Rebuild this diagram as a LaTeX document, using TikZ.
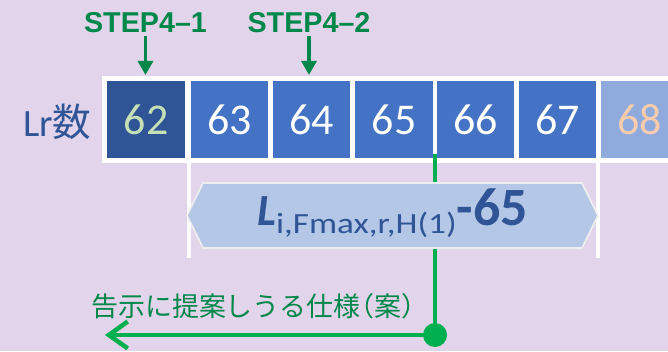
\documentclass[tikz,border=0pt]{standalone}
\usepackage{fontspec}
\usepackage{graphicx}
\setmainfont{Carlito}
\newfontfamily\jpfont{Noto Sans CJK JP}
\newfontfamily\jphalf{Noto Sans CJK JP}[RawFeature=+halt]
\newfontfamily\stepfont{Liberation Sans}
\usetikzlibrary{arrows.meta}
\definecolor{bgpurple}{HTML}{E2D5EB}
\definecolor{darkbox}{HTML}{2F5597}
\definecolor{midbox}{HTML}{4472C4}
\definecolor{lightbox}{HTML}{8FAADC}
\definecolor{bandfill}{HTML}{B4C7E7}
\definecolor{bandedge}{HTML}{EEEEEE}
\definecolor{linegreen}{HTML}{00B050}
\definecolor{textgreen}{HTML}{00884A}
\definecolor{palegreen}{HTML}{C5E0B4}
\definecolor{peach}{HTML}{F8CBAD}

\begin{document}
\begin{tikzpicture}[x=0.03cm,y=-0.03cm,>=Latex,lrbox/.style={minimum width=2.32cm,minimum height=2.31cm,inner sep=0,fill=midbox,text=white,font=\fontsize{37.5}{40}\selectfont},steplabel/.style={text=textgreen,inner sep=0,font=\stepfont\bfseries\fontsize{24.5}{28}\selectfont},steparrow/.style={textgreen,line width=2.6pt,-{Triangle[length=12pt,width=13pt]},shorten <=2pt,shorten >=5pt},gline/.style={linegreen,line width=3.9pt},wline/.style={white,line width=3.4pt},joint/.style={circle,fill=linegreen,minimum size=0.72cm,inner sep=0}]
\clip (0,0) rectangle (668,351);
\fill[bgpurple] (0,0) rectangle (668,351);
\fill[white] (102,76) rectangle (680,163);
% Lr boxes
\node[lrbox,fill=darkbox,text=palegreen] (b62) at (146,119.5) {62};
\node[lrbox] (b63) at (229.5,119.5) {63};
\node[lrbox] (b64) at (311.5,119.5) {64};
\node[lrbox] (b65) at (394,119.5) {65};
\node[lrbox] (b66) at (475.5,119.5) {66};
\node[lrbox] (b67) at (557.5,119.5) {67};
\node[lrbox,fill=lightbox,text=peach] (b68) at (639.5,119.5) {68};
\node[anchor=base west,text=darkbox,inner sep=0,font=\fontsize{33}{36}\selectfont] (lrname) at (23,136) {Lr{\jpfont 数}};
% range marks
\coordinate (wl1) at (189,163);
\coordinate (wl2) at (189,258);
\coordinate (wr1) at (598,163);
\coordinate (wr2) at (598,258);
\draw[wline] (wl1)--(wl2);
\draw[wline] (wr1)--(wr2);
\coordinate (gtop) at (435,154);
\coordinate (gjoin) at (435,335);
\coordinate (gend) at (105,335);
\draw[gline] (gtop)--(gjoin);
\draw[fill=bandfill,draw=bandedge,line width=1.5pt] (187,215.5)--(203,183)--(582,183)--(598,215.5)--(582,248)--(203,248)--cycle;
\node[anchor=base west,inner sep=0,text=darkbox] (lval) at (257,225) {{\fontsize{38}{40}\selectfont\bfseries\itshape L}{\fontsize{25}{27}\selectfont\raisebox{-7pt}{\scalebox{1.2}[1]{i,Fmax,r,H(1)}}}{\fontsize{46}{48}\selectfont\bfseries -65}};
\draw[gline,-{Straight Barb[length=16pt,width=23pt]}] (gjoin)--(gend);
\node[joint] (gdot) at (gjoin) {};
\node[anchor=west,text=textgreen,inner sep=0,font=\jpfont\fontsize{23}{26}\selectfont] (spec) at (91,306) {告示に提案しうる仕様{\jphalf （}案{\jphalf ）}};
% steps
\node[steplabel] (s1) at (145.5,23) {STEP4\textendash1};
\node[steplabel] (s2) at (309,23) {STEP4\textendash2};
\draw[steparrow] (s1.south)--(s1.south |- b62.north);
\draw[steparrow] (s2.south)--(s2.south |- b64.north);
\end{tikzpicture}
\end{document}
